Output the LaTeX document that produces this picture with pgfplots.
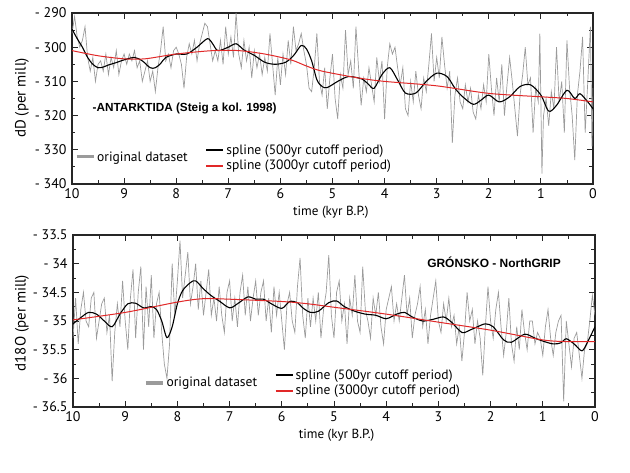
\documentclass[border=0pt]{standalone}
\usepackage{pgfplots}
\pgfplotsset{compat=1.18}
\usepackage{fontspec}
\setmainfont{PT Sans}
\newfontfamily\titlefont{Liberation Sans}
\definecolor{grayline}{RGB}{155,155,155}
\definecolor{redline}{RGB}{225,40,40}
\pgfplotsset{
  panel/.style={
    scale only axis, x dir=reverse, xmin=0, xmax=10,
    xtick={0,1,...,10}, xticklabels={0,1,2,3,4,5,6,7,8,9,10},
    minor x tick num=1, minor y tick num=1,
    tick align=inside, major tick length=6bp, minor tick length=3.5bp,
    axis line style={line width=1.1pt, black!85},
    every tick/.style={black!85, line width=0.9pt},
    tick label style={font=\fontsize{14}{15}\selectfont},
    yticklabel style={xshift=-2bp},
    xticklabel style={yshift=-1bp},
    xlabel style={font=\fontsize{13.2}{14}\selectfont},
    ylabel style={font=\fontsize{15}{16}\selectfont},
    legend style={draw=none, fill=none, font=\fontsize{13.6}{14}\selectfont, row sep=0.5bp,
      nodes={inner ysep=2bp}},
    legend image post style={line width=2pt},
    legend cell align=left,
  },
  overlay/.style={scale only axis, hide axis, xmin=0, xmax=1, ymin=0, ymax=1,
    legend style={draw=none, fill=none, font=\fontsize{13.6}{14}\selectfont}},
}
\begin{document}
\begin{tikzpicture}
\useasboundingbox (0,0) rectangle (630bp,473bp);
% ---------------- top panel ----------------
\begin{axis}[panel, at={(72bp,289bp)}, anchor=south west, width=521bp, height=171bp,
  ymin=-340, ymax=-290, ytick={-340,-330,-320,-310,-300,-290},
  yticklabels={- 340,- 330,- 320,- 310,- 300,- 290},
  ylabel={dD (per mill)}, ylabel style={at={(axis description cs:-0.096,0.503)}, anchor=center},
  xlabel={time (kyr B.P.)}, xlabel style={at={(axis description cs:0.497,-0.164)}, anchor=center},
  legend style={at={(axis description cs:0.250,0.152)}, anchor=west},
]
\addplot[grayline, line width=0.7pt, forget plot] coordinates {
(10.00,-296)(9.95,-291)(9.90,-297)(9.85,-300)(9.80,-298)(9.75,-294)(9.70,-303)(9.65,-307)(9.60,-303)(9.55,-310)
(9.50,-305)(9.45,-304)(9.40,-307)(9.35,-302)(9.30,-308)(9.25,-303)(9.20,-306)(9.15,-301)(9.10,-308)(9.05,-304)
(9.00,-302)(8.95,-305)(8.90,-302)(8.85,-304)(8.80,-301)(8.75,-306)(8.70,-304)(8.65,-310)(8.60,-307)(8.55,-304)
(8.50,-310)(8.45,-307)(8.40,-313)(8.35,-306)(8.30,-301)(8.25,-294)(8.20,-304)(8.15,-302)(8.10,-306)(8.05,-301)
(8.00,-300)(7.95,-302)(7.90,-305)(7.85,-312)(7.80,-303)(7.75,-299)(7.70,-302)(7.65,-298)(7.60,-304)(7.55,-299)
(7.50,-296)(7.45,-293)(7.40,-294)(7.35,-299)(7.30,-304)(7.25,-301)(7.20,-304)(7.15,-298)(7.10,-305)(7.05,-294)
(7.00,-302)(6.95,-297)(6.90,-303)(6.85,-290)(6.80,-302)(6.75,-306)(6.70,-298)(6.65,-304)(6.60,-300)(6.55,-309)
(6.50,-301)(6.45,-306)(6.40,-302)(6.35,-308)(6.30,-303)(6.25,-307)(6.20,-296)(6.15,-305)(6.10,-314)(6.05,-303)
(6.00,-311)(5.95,-302)(5.90,-308)(5.85,-298)(5.80,-305)(5.75,-294)(5.70,-301)(5.65,-299)(5.60,-296)(5.55,-301)
(5.50,-305)(5.45,-312)(5.40,-313)(5.35,-306)(5.30,-296)(5.25,-310)(5.20,-314)(5.15,-306)(5.10,-318)(5.05,-309)
(5.00,-302)(4.95,-315)(4.90,-321)(4.85,-308)(4.80,-312)(4.75,-295)(4.70,-308)(4.65,-304)(4.60,-312)(4.55,-294)
(4.50,-306)(4.45,-317)(4.40,-309)(4.35,-313)(4.30,-306)(4.25,-311)(4.20,-316)(4.15,-303)(4.10,-310)(4.05,-304)
(4.00,-321)(3.95,-306)(3.90,-299)(3.85,-302)(3.80,-300)(3.75,-306)(3.70,-311)(3.65,-306)(3.60,-318)(3.55,-320)
(3.50,-310)(3.45,-316)(3.40,-307)(3.35,-314)(3.30,-318)(3.25,-309)(3.20,-313)(3.15,-305)(3.10,-296)(3.05,-310)
(3.00,-303)(2.95,-309)(2.90,-297)(2.85,-305)(2.80,-312)(2.75,-307)(2.70,-328)(2.65,-314)(2.60,-309)(2.55,-316)
(2.50,-318)(2.45,-311)(2.40,-316)(2.35,-312)(2.30,-319)(2.25,-321)(2.20,-314)(2.15,-318)(2.10,-311)(2.05,-316)
(2.00,-302)(1.95,-312)(1.90,-320)(1.85,-309)(1.80,-316)(1.75,-305)(1.70,-320)(1.65,-311)(1.60,-303)(1.55,-310)
(1.50,-318)(1.45,-326)(1.40,-314)(1.35,-308)(1.30,-300)(1.25,-311)(1.20,-309)(1.15,-325)(1.10,-312)(1.05,-316)
(1.02,-296)(0.98,-337)(0.95,-320)(0.90,-315)(0.85,-323)(0.80,-313)(0.75,-318)(0.70,-300)(0.65,-316)(0.60,-310)
(0.55,-325)(0.50,-298)(0.45,-312)(0.40,-320)(0.35,-333)(0.30,-314)(0.25,-307)(0.20,-297)(0.15,-325)(0.10,-310)
(0.05,-294)(0.02,-329)(0.00,-312)};
\addplot[black, line width=1.1pt, smooth] coordinates {
(10,-294.7)(9.9,-297.5)(9.8,-300)(9.7,-303)(9.6,-305)(9.5,-306)(9.4,-305.8)(9.3,-305.2)(9.15,-304.5)(9.0,-303.7)
(8.8,-303)(8.65,-304)(8.5,-306)(8.4,-306)(8.3,-304.8)(8.2,-303)(8.0,-302)(7.8,-302)(7.6,-300)(7.4,-297.5)
(7.3,-299)(7.2,-301)(7.0,-300)(6.85,-299)(6.7,-300.8)(6.5,-302.4)(6.3,-304.4)(6.1,-305)(5.9,-304.4)(5.75,-302.5)
(5.6,-299.5)(5.5,-300.5)(5.4,-304)(5.3,-309.5)(5.2,-311.5)(5.1,-311.8)(4.9,-310)(4.7,-308.6)(4.5,-309)(4.4,-309.6)
(4.3,-311)(4.2,-312)(4.05,-308)(3.9,-306)(3.75,-309.6)(3.6,-313.4)(3.4,-313.4)(3.2,-310)(3.0,-307.6)(2.8,-308.6)
(2.65,-312)(2.5,-314.5)(2.3,-316.7)(2.15,-315.5)(2.0,-314)(1.8,-316)(1.6,-314.5)(1.4,-311.5)(1.2,-311)(1.0,-314)
(0.85,-318.7)(0.7,-317)(0.5,-312.6)(0.35,-315)(0.25,-313.6)(0.1,-316)(0,-318)};
\addlegendentry{spline (500yr cutoff period)}
\addplot[redline, line width=1pt, smooth] coordinates {
(10,-301)(9.5,-302.5)(9,-303.4)(8.6,-303.4)(8,-302)(7.3,-301)(6.8,-301)(6.3,-302)(5.8,-303.7)(5.5,-305.5)
(5.2,-307)(4.5,-309)(4,-310)(3,-311.3)(2,-313.5)(1,-314.5)(0.5,-315)(0,-316)};
\addlegendentry{spline (3000yr cutoff period)}
\node[anchor=west, font=\titlefont\bfseries\fontsize{11.8}{12}\selectfont] at (axis description cs:0.033,0.444) {-ANTARKTIDA (Steig a kol. 1998)};
\end{axis}
\begin{axis}[overlay, at={(72bp,289bp)}, anchor=south west, width=521bp, height=171bp,
  legend style={at={(axis description cs:0.0,0.158)}, anchor=west}]
\addlegendimage{grayline, line width=3pt}
\addlegendentry{original dataset}
\end{axis}
% ---------------- bottom panel ----------------
\begin{axis}[panel, at={(73bp,66bp)}, anchor=south west, width=522bp, height=172bp,
  ymin=-36.5, ymax=-33.5, ytick={-36.5,-36,-35.5,-35,-34.5,-34,-33.5},
  yticklabels={- 36.5,- 36,- 35.5,- 35,- 34.5,- 34,- 33.5},
  ylabel={d18O (per mill)}, ylabel style={at={(axis description cs:-0.098,0.488)}, anchor=center},
  xlabel={time (kyr B.P.)}, xlabel style={at={(axis description cs:0.505,-0.163)}, anchor=center},
  legend style={at={(axis description cs:0.380,0.14)}, anchor=west},
]
\addplot[grayline, line width=0.7pt, forget plot] coordinates {
(10.00,-35.3)(9.95,-34.6)(9.90,-35.4)(9.85,-34.8)(9.80,-34.5)(9.75,-35.0)(9.70,-35.1)(9.65,-34.6)(9.60,-34.5)(9.55,-35.3)
(9.50,-35.0)(9.45,-34.7)(9.40,-34.6)(9.35,-35.2)(9.30,-34.9)(9.25,-36.05)(9.20,-35.2)(9.15,-34.7)(9.10,-35.1)(9.05,-34.3)
(9.00,-35.0)(8.95,-35.5)(8.90,-34.6)(8.85,-34.1)(8.80,-35.3)(8.75,-34.5)(8.70,-34.05)(8.65,-35.5)(8.60,-34.4)(8.55,-35.1)
(8.50,-34.2)(8.45,-35.3)(8.40,-34.7)(8.35,-34.5)(8.30,-35.2)(8.25,-35.75)(8.20,-36.0)(8.15,-35.4)(8.10,-34.0)(8.05,-34.9)
(8.00,-34.3)(7.95,-33.6)(7.90,-34.6)(7.85,-34.2)(7.80,-33.8)(7.75,-34.7)(7.70,-34.4)(7.65,-34.0)(7.60,-34.8)(7.55,-34.3)
(7.50,-34.9)(7.45,-34.5)(7.40,-34.1)(7.35,-34.9)(7.30,-34.6)(7.25,-35.0)(7.20,-34.4)(7.15,-34.9)(7.10,-35.2)(7.05,-34.5)
(7.00,-34.3)(6.95,-35.0)(6.90,-34.6)(6.85,-35.1)(6.80,-34.5)(6.75,-34.2)(6.70,-34.9)(6.65,-34.4)(6.60,-35.0)(6.55,-34.6)
(6.50,-34.3)(6.45,-34.9)(6.40,-34.5)(6.35,-34.3)(6.30,-35.0)(6.25,-34.6)(6.20,-35.2)(6.15,-34.4)(6.10,-34.9)(6.05,-34.5)
(6.00,-35.0)(5.95,-35.5)(5.90,-34.7)(5.85,-34.5)(5.80,-35.0)(5.75,-35.2)(5.70,-34.4)(5.65,-33.9)(5.60,-34.9)(5.55,-35.3)
(5.50,-34.6)(5.45,-35.1)(5.40,-34.6)(5.35,-35.0)(5.30,-34.5)(5.25,-35.3)(5.20,-34.8)(5.15,-34.5)(5.10,-33.85)(5.05,-34.9)
(5.00,-35.3)(4.95,-34.5)(4.90,-34.3)(4.85,-35.0)(4.80,-34.7)(4.75,-35.4)(4.70,-34.6)(4.65,-34.9)(4.60,-34.2)(4.55,-35.0)
(4.50,-35.2)(4.45,-34.05)(4.40,-34.8)(4.35,-35.0)(4.30,-35.3)(4.25,-34.6)(4.20,-34.9)(4.15,-34.5)(4.10,-35.1)(4.05,-35.4)
(4.00,-34.8)(3.95,-34.6)(3.90,-34.4)(3.85,-35.0)(3.80,-34.7)(3.75,-35.0)(3.70,-34.6)(3.65,-34.2)(3.60,-34.9)(3.55,-34.6)
(3.50,-35.3)(3.45,-34.9)(3.40,-34.7)(3.35,-34.4)(3.30,-35.1)(3.25,-34.8)(3.20,-35.4)(3.15,-34.9)(3.10,-34.6)(3.05,-34.3)
(3.00,-35.0)(2.95,-35.2)(2.90,-34.7)(2.85,-35.0)(2.80,-34.6)(2.75,-35.1)(2.70,-34.9)(2.65,-35.4)(2.60,-35.1)(2.55,-35.7)
(2.50,-35.2)(2.45,-34.5)(2.40,-35.0)(2.35,-34.8)(2.30,-35.4)(2.25,-35.0)(2.20,-35.3)(2.15,-35.95)(2.10,-35.1)(2.05,-34.4)
(2.00,-35.0)(1.95,-35.3)(1.90,-34.8)(1.85,-34.5)(1.80,-35.1)(1.75,-35.6)(1.70,-35.2)(1.65,-34.6)(1.60,-35.4)(1.55,-35.7)
(1.50,-35.1)(1.45,-35.5)(1.40,-34.8)(1.35,-35.2)(1.30,-35.5)(1.25,-35.0)(1.20,-35.0)(1.15,-35.4)(1.10,-35.2)(1.05,-35.3)
(1.00,-35.6)(0.95,-35.1)(0.90,-34.8)(0.85,-35.3)(0.80,-35.6)(0.75,-35.2)(0.70,-35.0)(0.65,-34.9)(0.60,-36.4)(0.55,-35.0)
(0.50,-35.4)(0.45,-35.8)(0.40,-35.3)(0.35,-35.2)(0.30,-35.6)(0.25,-36.0)(0.20,-35.5)(0.15,-35.4)(0.10,-35.0)(0.05,-34.55)
(0.00,-34.9)};
\addplot[black, line width=1.1pt, smooth] coordinates {
(10,-35.05)(9.85,-34.94)(9.7,-34.85)(9.55,-34.88)(9.4,-35.0)(9.25,-35.1)(9.1,-34.88)(8.95,-34.7)(8.8,-34.69)(8.65,-34.77)
(8.5,-34.75)(8.4,-34.8)(8.3,-35.0)(8.2,-35.29)(8.1,-35.1)(8.0,-34.7)(7.9,-34.47)(7.75,-34.33)(7.65,-34.3)(7.5,-34.44)
(7.35,-34.56)(7.2,-34.65)(7.0,-34.77)(6.85,-34.7)(6.65,-34.58)(6.5,-34.62)(6.35,-34.62)(6.2,-34.7)(6.0,-34.78)(5.85,-34.66)
(5.7,-34.68)(5.6,-34.77)(5.45,-34.85)(5.3,-34.83)(5.1,-34.68)(4.95,-34.65)(4.8,-34.75)(4.6,-34.83)(4.4,-34.88)(4.2,-34.9)
(4.0,-34.96)(3.8,-34.88)(3.65,-34.85)(3.5,-34.93)(3.3,-35.0)(3.1,-34.97)(2.9,-34.93)(2.75,-35.02)(2.55,-35.2)(2.4,-35.16)
(2.25,-35.1)(2.1,-35.05)(1.95,-35.1)(1.75,-35.33)(1.6,-35.37)(1.35,-35.23)(1.15,-35.3)(1.0,-35.35)(0.8,-35.4)(0.65,-35.38)
(0.55,-35.31)(0.4,-35.4)(0.25,-35.52)(0.15,-35.38)(0,-35.1)};
\addlegendentry{spline (500yr cutoff period)}
\addplot[redline, line width=1pt, smooth] coordinates {
(10,-34.98)(9,-34.85)(8,-34.67)(7.5,-34.61)(7,-34.62)(6,-34.66)(5.5,-34.7)(5,-34.76)(4,-34.88)(3,-35.02)
(2,-35.16)(1,-35.33)(0.5,-35.36)(0,-35.36)};
\addlegendentry{spline (3000yr cutoff period)}
\node[anchor=west, font=\titlefont\bfseries\fontsize{12}{13}\selectfont] at (axis description cs:0.672,0.843) {GRÓNSKO - NorthGRIP};
\end{axis}
\begin{axis}[overlay, at={(73bp,66bp)}, anchor=south west, width=522bp, height=172bp,
  legend style={at={(axis description cs:0.130,0.14)}, anchor=west}]
\addlegendimage{grayline, line width=3.5pt}
\addlegendentry{original dataset}
\end{axis}
\end{tikzpicture}
\end{document}
